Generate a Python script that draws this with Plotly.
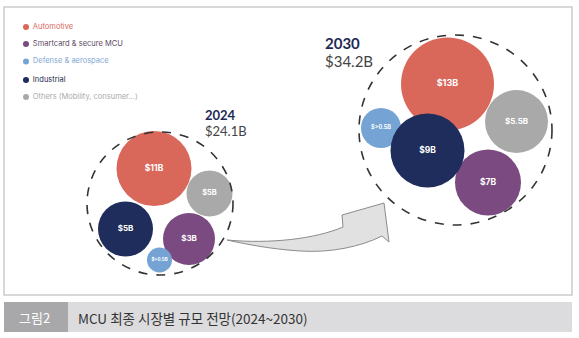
import plotly.graph_objects as go

# ---- data ----
segments = ["Automotive", "Smartcard & secure MCU", "Defense & aerospace", "Industrial", "Others (Mobility, consumer...)"]
colors = ["#d9685b", "#7a4a80", "#74a3d4", "#1e2d5c", "#a9a9a9"]
legend_text_colors = ["#d9685b", "#5c4a63", "#7fa7d4", "#1e2a4e", "#aaaaaa"]
labels_2024 = ["$11B", "$3B", "$>0.5B", "$5B", "$5B"]
labels_2030 = ["$13B", "$7B", "$>0.5B", "$9B", "$5.5B"]
years = ["2024", "2030"]
totals = ["$24.1B", "$34.2B"]
caption_tag = "그림2"
caption = "MCU 최종 시장별 규모 전망(2024~2030)"

# ---- layout positions (pixel space) ----
pos_2024 = dict(x=[154, 189, 159.5, 125.5, 209.5], y=[168.5, 239, 260, 229, 193.5], r=[37.5, 26, 12.5, 27.5, 23])
pos_2030 = dict(x=[447.5, 488, 381, 427.5, 516.5], y=[84, 182.5, 128, 150.5, 121.5], r=[46.5, 33, 20, 37, 31.5])
font_2024 = [8.5, 8, 4.5, 8, 7.5]
font_2030 = [9, 8.5, 5.5, 8.5, 8]
legend_y = [27, 44, 61.5, 80, 97]

fig = go.Figure()

shapes = [
    dict(type="rect", x0=4, y0=7, x1=572, y1=295, line=dict(color="#cccccc", width=1.5), fillcolor="white", layer="below"),
    dict(type="rect", x0=4, y0=302, x1=68, y1=332, line=dict(width=0), fillcolor="#a8a8aa", layer="below"),
    dict(type="rect", x0=68, y0=302, x1=572, y1=332, line=dict(width=0), fillcolor="#dcdcde", layer="below"),
    dict(type="circle", x0=87, y0=132, x1=233, y1=275, line=dict(color="#333333", width=1.6, dash="dash")),
    dict(type="circle", x0=359, y0=35, x1=552, y1=225, line=dict(color="#333333", width=1.6, dash="dash")),
    dict(type="path",
         path="M 227,240 C 270,244 315,239 343,227 L 342,215 L 384,203 L 389,242 L 382,236 C 360,247 330,253 300,251 C 270,249 245,244 227,240 Z",
         fillcolor="#e1e1e1", line=dict(color="#8c8c8c", width=1), layer="below"),
]

for pos, labs, fs in [(pos_2024, labels_2024, font_2024), (pos_2030, labels_2030, font_2030)]:
    fig.add_trace(go.Scatter(
        x=pos["x"], y=pos["y"], mode="markers+text",
        marker=dict(size=[2 * r for r in pos["r"]], color=colors, line=dict(width=0), opacity=1),
        text=labs, textposition="middle center",
        textfont=dict(family="Inter", size=fs, color="white", weight="bold"),
        hoverinfo="skip", showlegend=False))

fig.add_trace(go.Scatter(
    x=[26] * len(segments), y=legend_y, mode="markers+text",
    marker=dict(size=6, color=colors),
    text=[" " + s for s in segments], textposition="middle right",
    textfont=dict(family="Inter", size=7.5, color=legend_text_colors),
    hoverinfo="skip", showlegend=False))

annotations = [
    dict(x=203, y=115, text="<b>" + years[0] + "</b>", font=dict(family="Lato", size=13, color="#1e2a55")),
    dict(x=203, y=131, text=totals[0], font=dict(family="Lato", size=13, color="#444444")),
    dict(x=323, y=43, text="<b>" + years[1] + "</b>", font=dict(family="Lato", size=15, color="#1e2a55")),
    dict(x=323, y=61, text=totals[1], font=dict(family="Lato", size=15, color="#444444")),
]
for a in annotations:
    a.update(xref="x", yref="y", xanchor="left", yanchor="middle", showarrow=False)

annotations.append(dict(x=34, y=317.5, xref="x", yref="y", text=caption_tag, showarrow=False,
                        xanchor="center", yanchor="middle",
                        font=dict(family="Noto Sans CJK KR", size=13, color="white")))
annotations.append(dict(x=76, y=317.5, xref="x", yref="y", text=caption, showarrow=False,
                        xanchor="left", yanchor="middle",
                        font=dict(family="Noto Sans CJK KR", size=13.5, color="#333333")))

fig.update_layout(
    width=579, height=338, autosize=False,
    margin=dict(l=0, r=0, t=0, b=0),
    paper_bgcolor="white", plot_bgcolor="white",
    xaxis=dict(range=[0, 579], visible=False, fixedrange=True),
    yaxis=dict(range=[338, 0], visible=False, fixedrange=True),
    shapes=shapes, annotations=annotations,
)

fig.write_html("out.html")
